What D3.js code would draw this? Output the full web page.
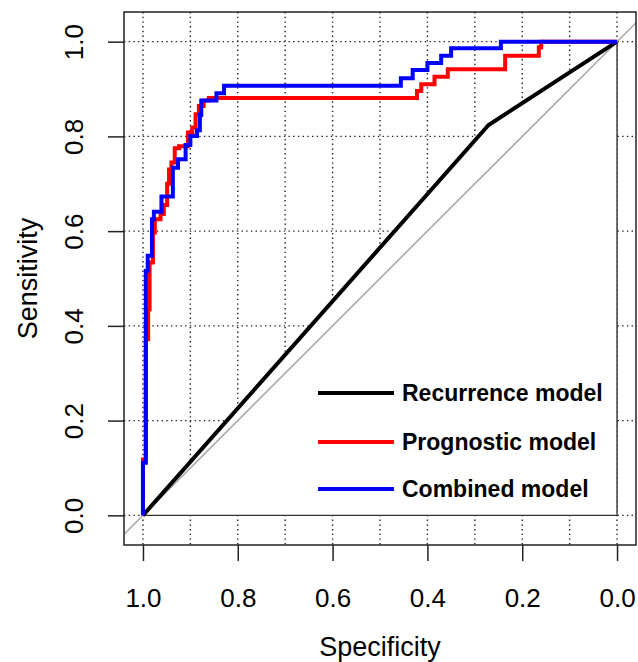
<!DOCTYPE html>
<html>
<head>
<meta charset="utf-8">
<title>ROC</title>
<script src="https://d3js.org/d3.v7.min.js"></script>
<style>
  body { margin: 0; background: #fff; }
  text { font-family: "Liberation Sans", Arial, sans-serif; }
</style>
</head>
<body>
<div id="chart"></div>
<script>
// ROC curve data (specificity, sensitivity)
var recurrenceSpec = [1.0, 0.271, 0.0];
var recurrenceSens = [0.0, 0.824, 1.0];

var prognosticSpec = [1.0, 1.0, 0.994, 0.994, 0.989, 0.989, 0.986, 0.986, 0.979, 0.979, 0.975, 0.975,
  0.963, 0.963, 0.956, 0.956, 0.949, 0.949, 0.945, 0.945, 0.940, 0.940, 0.933, 0.933, 0.924, 0.924,
  0.905, 0.905, 0.896, 0.896, 0.889, 0.889, 0.882, 0.882, 0.872, 0.872, 0.861, 0.861,
  0.422, 0.422, 0.413, 0.413, 0.385, 0.385, 0.357, 0.357, 0.236, 0.236, 0.165, 0.165, 0.160, 0.160, 0.0];
var prognosticSens = [0.0, 0.118, 0.118, 0.372, 0.372, 0.435, 0.435, 0.534, 0.534, 0.597, 0.597, 0.625,
  0.625, 0.636, 0.636, 0.655, 0.655, 0.700, 0.700, 0.730, 0.730, 0.745, 0.745, 0.775, 0.775, 0.779,
  0.779, 0.808, 0.808, 0.819, 0.819, 0.847, 0.847, 0.864, 0.864, 0.876, 0.876, 0.881,
  0.881, 0.896, 0.896, 0.910, 0.910, 0.926, 0.926, 0.942, 0.942, 0.970, 0.970, 0.988, 0.988, 1.0, 1.0];

var combinedSpec = [1.0, 1.0, 0.994, 0.994, 0.990, 0.990, 0.981, 0.981, 0.977, 0.977, 0.961, 0.961,
  0.937, 0.937, 0.926, 0.926, 0.910, 0.910, 0.900, 0.900, 0.886, 0.886, 0.880, 0.880, 0.877, 0.877,
  0.845, 0.845, 0.829, 0.829, 0.456, 0.456, 0.431, 0.431, 0.400, 0.400, 0.371, 0.371, 0.350, 0.350,
  0.245, 0.245, 0.0];
var combinedSens = [0.0, 0.111, 0.111, 0.516, 0.516, 0.548, 0.548, 0.625, 0.625, 0.641, 0.641, 0.673,
  0.673, 0.734, 0.734, 0.752, 0.752, 0.782, 0.782, 0.801, 0.801, 0.813, 0.813, 0.845, 0.845, 0.876,
  0.876, 0.891, 0.891, 0.907, 0.907, 0.923, 0.923, 0.940, 0.940, 0.955, 0.955, 0.970, 0.970, 0.986,
  0.986, 1.0, 1.0];

var xTicks = [1.0, 0.8, 0.6, 0.4, 0.2, 0.0];
var yTicks = [0.0, 0.2, 0.4, 0.6, 0.8, 1.0];
var xGrid = [1.0, 0.9, 0.8, 0.7, 0.6, 0.5, 0.4, 0.3, 0.2, 0.1, 0.0];
var yGrid = [0.0, 0.2, 0.4, 0.6, 0.8, 1.0];

var legendLabels = ["Recurrence model", "Prognostic model", "Combined model"];
var legendColors = ["#000000", "#ff0000", "#0000ff"];

var width = 638, height = 662;
var box = {left: 124, right: 636, top: 12, bottom: 545};

var svg = d3.select("#chart").append("svg")
  .attr("width", width)
  .attr("height", height);

var x = d3.scaleLinear().domain([1.04, -0.04]).range([box.left, box.right]);
var y = d3.scaleLinear().domain([-0.0626, 1.0626]).range([box.bottom, box.top]);

svg.append("clipPath").attr("id", "clip")
  .append("rect")
  .attr("x", box.left).attr("y", box.top)
  .attr("width", box.right - box.left).attr("height", box.bottom - box.top);

var plot = svg.append("g").attr("clip-path", "url(#clip)");

// dotted grid
plot.selectAll(".vgrid").data(xGrid).enter().append("line")
  .attr("x1", d => x(d)).attr("x2", d => x(d))
  .attr("y1", box.top).attr("y2", box.bottom)
  .attr("stroke", "#222").attr("stroke-width", 1.4)
  .attr("stroke-dasharray", "1.4,3.3");
plot.selectAll(".hgrid").data(yGrid).enter().append("line")
  .attr("x1", box.left).attr("x2", box.right)
  .attr("y1", d => y(d)).attr("y2", d => y(d))
  .attr("stroke", "#222").attr("stroke-width", 1.4)
  .attr("stroke-dasharray", "1.4,3.3");

// white area under the recurrence curve
var polyPts = recurrenceSpec.map((s, i) => [x(s), y(recurrenceSens[i])]);
polyPts.push([x(0), y(0)]);
plot.append("path")
  .attr("d", "M" + polyPts.join("L") + "Z")
  .attr("fill", "#fff")
  .attr("stroke", "#333").attr("stroke-width", 1.4);

// chance line
plot.append("line")
  .attr("x1", x(1.04)).attr("y1", y(-0.04))
  .attr("x2", x(-0.04)).attr("y2", y(1.04))
  .attr("stroke", "#a8a8a8").attr("stroke-width", 1.6);

var line = d3.line().x(d => x(d[0])).y(d => y(d[1]));

function drawCurve(spec, sens, color) {
  plot.append("path")
    .datum(spec.map((s, i) => [s, sens[i]]))
    .attr("d", line)
    .attr("fill", "none")
    .attr("stroke", color)
    .attr("stroke-width", 4);
}
drawCurve(recurrenceSpec, recurrenceSens, legendColors[0]);
drawCurve(prognosticSpec, prognosticSens, legendColors[1]);
drawCurve(combinedSpec, combinedSens, legendColors[2]);

// box
svg.append("rect")
  .attr("x", box.left).attr("y", box.top)
  .attr("width", box.right - box.left).attr("height", box.bottom - box.top)
  .attr("fill", "none").attr("stroke", "#222").attr("stroke-width", 1.5);

// axes
var xAxis = svg.append("g")
  .attr("transform", "translate(0," + box.bottom + ")")
  .call(d3.axisBottom(x).tickValues(xTicks).tickFormat(d3.format(".1f")).tickSize(16).tickPadding(45));
xAxis.select(".domain").remove();
xAxis.selectAll("line").attr("stroke", "#222").attr("stroke-width", 1.5);
xAxis.selectAll("text").attr("font-size", 26).attr("fill", "#000")
  .attr("dy", 0).attr("y", 61.5);

var yAxis = svg.append("g")
  .attr("transform", "translate(" + box.left + ",0)")
  .call(d3.axisLeft(y).tickValues(yTicks).tickFormat(d3.format(".1f")).tickSize(16));
yAxis.select(".domain").remove();
yAxis.selectAll("line").attr("stroke", "#222").attr("stroke-width", 1.5);
yAxis.selectAll("text")
  .attr("font-size", 26).attr("fill", "#000")
  .attr("x", null).attr("dy", null)
  .attr("text-anchor", "middle")
  .attr("transform", "translate(-41,0) rotate(-90)");

// axis titles
svg.append("text")
  .attr("x", (box.left + box.right) / 2).attr("y", 656)
  .attr("text-anchor", "middle").attr("font-size", 27)
  .text("Specificity");
svg.append("text")
  .attr("transform", "translate(37," + ((box.top + box.bottom) / 2) + ") rotate(-90)")
  .attr("text-anchor", "middle").attr("font-size", 27)
  .text("Sensitivity");

// legend
var legendY = [393, 442, 489];
var legend = svg.append("g");
legendLabels.forEach(function(lab, i) {
  legend.append("line")
    .attr("x1", 318).attr("x2", 394)
    .attr("y1", legendY[i]).attr("y2", legendY[i])
    .attr("stroke", legendColors[i]).attr("stroke-width", 4);
  legend.append("text")
    .attr("x", 402).attr("y", legendY[i])
    .attr("dy", "0.35em")
    .attr("font-size", 23).attr("font-weight", "bold")
    .text(lab);
});
</script>
</body>
</html>
